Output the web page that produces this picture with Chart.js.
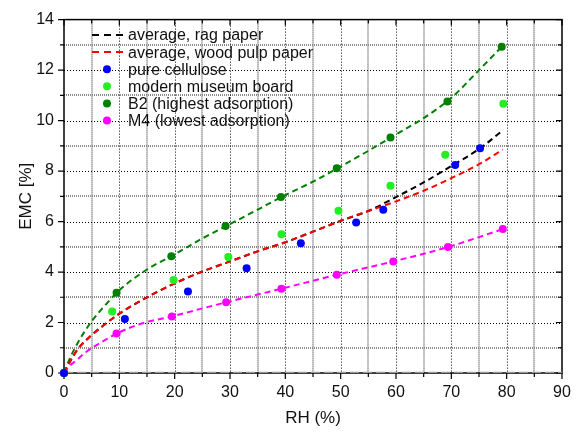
<!DOCTYPE html>
<html>
<head>
<meta charset="utf-8">
<script src="https://cdn.jsdelivr.net/npm/chart.js@4/dist/chart.umd.min.js"></script>
<style>
  html, body { margin: 0; padding: 0; background: #fff; }
  #wrap { width: 581px; height: 433px; }
</style>
</head>
<body>
<div id="wrap"><canvas id="c" width="581" height="433"></canvas></div>
<script>
// Axis ticks
const xTicks = [0, 10, 20, 30, 40, 50, 60, 70, 80, 90];
const yTicks = [0, 2, 4, 6, 8, 10, 12, 14];

// Legend names
const seriesNames = [
  'average, rag paper',
  'average, wood pulp paper',
  'pure cellulose',
  'modern museum board',
  'B2 (highest adsorption)',
  'M4 (lowest adsorption)'
];

// Measured sorption points (RH %, EMC %)
const rhCellulose  = [0, 11.0, 22.4, 33.0, 42.8, 52.8, 57.7, 70.7, 75.2];
const emcCellulose = [0, 2.14, 3.23, 4.15, 5.14, 5.96, 6.47, 8.24, 8.90];

const rhBoard  = [0, 8.7, 19.8, 29.7, 39.3, 49.6, 59.0, 68.9, 79.4];
const emcBoard = [0, 2.44, 3.68, 4.60, 5.50, 6.43, 7.42, 8.65, 10.67];

const rhB2  = [0, 9.5, 19.4, 29.2, 39.2, 49.3, 59.0, 69.3, 79.1];
const emcB2 = [0, 3.18, 4.63, 5.82, 6.97, 8.11, 9.33, 10.76, 12.92];

const rhM4  = [0, 9.5, 19.5, 29.3, 39.3, 49.3, 59.5, 69.4, 79.3];
const emcM4 = [0, 1.56, 2.24, 2.80, 3.34, 3.89, 4.42, 4.99, 5.70];

// Average isotherm curves
const rhRag  = [0, 1, 2.5, 5, 7.5, 10, 15, 20, 25, 30, 35, 40, 45, 50, 55, 60, 65, 70, 75, 79.3];
const emcRag = [0, 0.42, 0.95, 1.5, 1.95, 2.35, 3.0, 3.55, 4.02, 4.42, 4.82, 5.18, 5.6, 6.03, 6.42, 6.97, 7.55, 8.2, 8.87, 9.61];

const rhPulp  = [0, 1, 2.5, 5, 7.5, 10, 15, 20, 25, 30, 35, 40, 45, 50, 55, 60, 65, 70, 75, 79.3];
const emcPulp = [0, 0.42, 0.95, 1.5, 1.95, 2.35, 3.0, 3.55, 4.02, 4.42, 4.82, 5.18, 5.6, 6.03, 6.42, 6.8, 7.22, 7.72, 8.27, 8.85];

// Fitted curves through B2 and M4
const rhB2Fit  = [0, 1, 2.5, 5, 7.5, 10, 15, 20, 25, 30, 35, 40, 45, 50, 55, 60, 65, 70, 75, 79.1];
const emcB2Fit = [0, 0.55, 1.2, 2.05, 2.7, 3.28, 4.1, 4.7, 5.33, 5.9, 6.47, 7.05, 7.58, 8.18, 8.8, 9.45, 10.1, 10.9, 12.0, 12.92];

const rhM4Fit  = [0, 1, 2, 4.1, 7.4, 9.5, 14, 19.5, 24.5, 29.3, 39.3, 49.3, 59.5, 69.4, 79.3];
const emcM4Fit = [0, 0.28, 0.46, 0.85, 1.3, 1.56, 1.96, 2.24, 2.53, 2.8, 3.34, 3.89, 4.42, 4.99, 5.7];

const baseRH  = [0, 90];
const baseEMC = [0, 0];

const pts = (xs, ys) => xs.map((v, i) => ({ x: v, y: ys[i] }));

const FONT = "'Liberation Sans', Arial, sans-serif";

function curve(label, xs, ys, color, legend, order) {
  return {
    type: 'line', label, data: pts(xs, ys),
    borderColor: color, backgroundColor: color,
    borderWidth: 2, borderDash: [6, 4],
    pointRadius: 0, pointHoverRadius: 0,
    cubicInterpolationMode: 'monotone', fill: false,
    showLine: true, order: order, legendKind: legend ? 'line' : null
  };
}
function dots(label, xs, ys, color) {
  return {
    type: 'scatter', label, data: pts(xs, ys),
    borderColor: color, backgroundColor: color,
    pointRadius: 4, pointBorderWidth: 0, showLine: false,
    clip: false, order: 1, legendKind: 'dot'
  };
}

const datasets = [
  Object.assign(curve('', baseRH, baseEMC, '#9a9a9a', false, 9), { borderWidth: 2.5, borderDash: [9, 4], cubicInterpolationMode: 'default', tension: 0 }),
  curve(seriesNames[0], rhRag, emcRag, '#000000', true, 6),
  curve(seriesNames[1], rhPulp, emcPulp, '#ff0000', true, 5),
  dots(seriesNames[2], rhCellulose, emcCellulose, '#0000ff'),
  dots(seriesNames[3], rhBoard, emcBoard, '#22ee22'),
  dots(seriesNames[4], rhB2, emcB2, '#008000'),
  dots(seriesNames[5], rhM4, emcM4, '#ff00ff'),
  curve('', rhB2Fit, emcB2Fit, '#008000', false, 5),
  curve('', rhM4Fit, emcM4Fit, '#ff00ff', false, 5)
];

// Grid, frame, tick marks and the in-plot legend
const framePlugin = {
  id: 'frame',
  beforeDatasetsDraw(chart) {
    const { ctx, chartArea: a, scales: { x, y } } = chart;
    ctx.save();
    // minor grid (gray)
    ctx.strokeStyle = '#8c8c8c';
    ctx.lineWidth = 2;
    ctx.setLineDash([1, 1]);
    for (let v = 5; v < 90; v += 10) {
      const px = Math.round(x.getPixelForValue(v));
      ctx.beginPath(); ctx.moveTo(px, a.top); ctx.lineTo(px, a.bottom); ctx.stroke();
    }
    for (let v = 1; v < 14; v += 2) {
      const py = Math.round(y.getPixelForValue(v));
      ctx.beginPath(); ctx.moveTo(a.left, py); ctx.lineTo(a.right, py); ctx.stroke();
    }
    // major grid (black dotted)
    ctx.strokeStyle = '#000';
    ctx.lineWidth = 1;
    ctx.setLineDash([1, 2]);
    xTicks.slice(1, -1).forEach(v => {
      const px = Math.round(x.getPixelForValue(v)) + 0.5;
      ctx.beginPath(); ctx.moveTo(px, a.top); ctx.lineTo(px, a.bottom); ctx.stroke();
    });
    yTicks.slice(1, -1).forEach(v => {
      const py = Math.round(y.getPixelForValue(v)) + 0.5;
      ctx.beginPath(); ctx.moveTo(a.left, py); ctx.lineTo(a.right, py); ctx.stroke();
    });
    ctx.setLineDash([]);
    // frame
    ctx.lineWidth = 1.5;
    ctx.strokeRect(a.left, a.top, a.right - a.left, a.bottom - a.top);
    // tick marks
    ctx.lineWidth = 1.2;
    for (let v = 0; v <= 90; v += 5) {
      const px = x.getPixelForValue(v);
      const len = v % 10 === 0 ? 6 : 4;
      ctx.beginPath();
      ctx.moveTo(px, a.bottom); ctx.lineTo(px, a.bottom + len);
      ctx.moveTo(px, a.top); ctx.lineTo(px, a.top + len);
      ctx.stroke();
    }
    for (let v = 0; v <= 14; v += 1) {
      const py = y.getPixelForValue(v);
      const len = v % 2 === 0 ? 6 : 4;
      ctx.beginPath();
      ctx.moveTo(a.left, py); ctx.lineTo(a.left - len, py);
      ctx.moveTo(a.right, py); ctx.lineTo(a.right - len, py);
      ctx.stroke();
    }
    ctx.restore();
  },
  afterDraw(chart) {
    const { ctx } = chart;
    const entries = chart.data.datasets.filter(d => d.legendKind);
    ctx.save();
    ctx.font = '16px ' + FONT;
    ctx.textBaseline = 'middle';
    ctx.fillStyle = '#111';
    const x0 = 92, x1 = 124, tx = 128, top = 35, step = 17.1;
    entries.forEach((d, i) => {
      const yy = top + i * step;
      if (d.legendKind === 'line') {
        ctx.strokeStyle = d.borderColor;
        ctx.lineWidth = 2;
        ctx.setLineDash([7, 5]);
        ctx.beginPath(); ctx.moveTo(x0, yy); ctx.lineTo(x1, yy); ctx.stroke();
        ctx.setLineDash([]);
      } else {
        ctx.fillStyle = d.backgroundColor;
        ctx.beginPath(); ctx.arc((x0 + x1) / 2 - 1, yy, 4, 0, Math.PI * 2); ctx.fill();
      }
      ctx.fillStyle = '#111';
      ctx.fillText(d.label, tx, yy + 1);
    });
    ctx.restore();
  }
};

new Chart(document.getElementById('c'), {
  type: 'scatter',
  data: { datasets },
  options: {
    responsive: false,
    animation: false,
    layout: { padding: { top: 16, right: 19, left: 0, bottom: 0 } },
    plugins: { legend: { display: false }, tooltip: { enabled: false } },
    scales: {
      x: {
        type: 'linear', min: 0, max: 90,
        afterBuildTicks: s => { s.ticks = xTicks.map(v => ({ value: v })); },
        afterFit: s => { s.height = 60; },
        grid: { display: false, drawTicks: false },
        border: { display: false },
        ticks: { color: '#111', font: { family: FONT, size: 16 }, padding: 10, maxRotation: 0 },
        title: { display: true, text: 'RH (%)', color: '#111', font: { family: FONT, size: 17 }, padding: { top: 0, bottom: 4 } }
      },
      y: {
        type: 'linear', min: 0, max: 14,
        afterBuildTicks: s => { s.ticks = yTicks.map(v => ({ value: v })); },
        afterFit: s => { s.width = 64; },
        grid: { display: false, drawTicks: false },
        border: { display: false },
        ticks: { color: '#111', font: { family: FONT, size: 16 }, padding: 10 },
        title: { display: true, text: 'EMC [%]', color: '#111', font: { family: FONT, size: 17 }, padding: { top: 16, bottom: 0 } }
      }
    }
  },
  plugins: [framePlugin]
});
</script>
</body>
</html>
